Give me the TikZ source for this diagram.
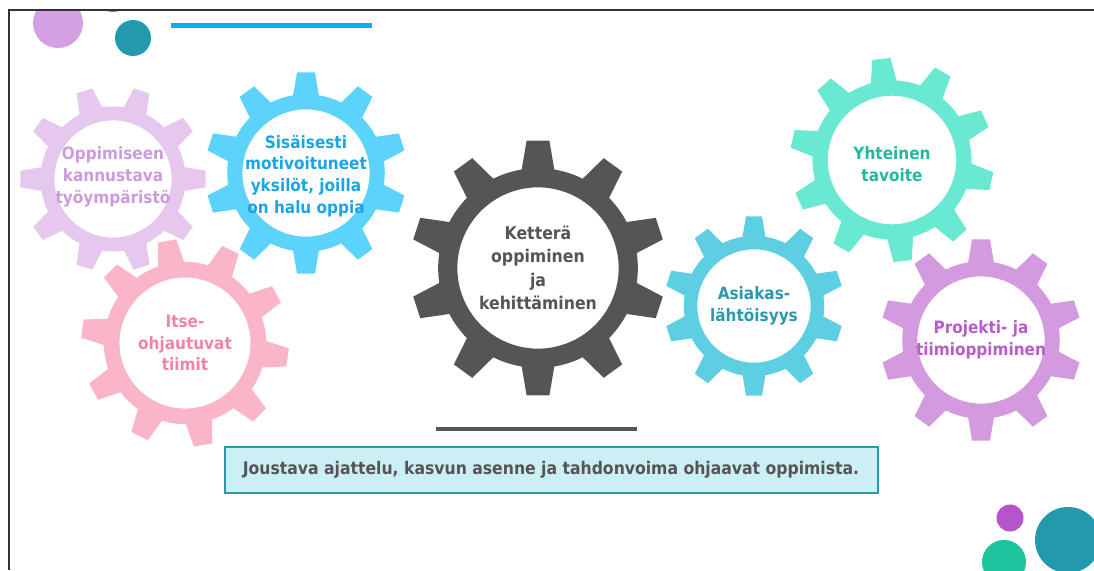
\documentclass[tikz,border=0pt]{standalone}
\usepackage{fontspec}
\setmainfont{DejaVu Sans Condensed}
\usetikzlibrary{calc}
\definecolor{lilac}{HTML}{E6C8EE}
\definecolor{lilactext}{HTML}{CC9BDD}
\definecolor{sky}{HTML}{5CD3FA}
\definecolor{skytext}{HTML}{1BA5E4}
\definecolor{rose}{HTML}{FBB5C9}
\definecolor{rosetext}{HTML}{F283A6}
\definecolor{slate}{HTML}{555555}
\definecolor{aqua}{HTML}{5ECFE2}
\definecolor{aquatext}{HTML}{2C98AE}
\definecolor{mint}{HTML}{69E9D1}
\definecolor{minttext}{HTML}{22B99C}
\definecolor{orchid}{HTML}{D39ADF}
\definecolor{orchidtext}{HTML}{B85CCB}
\definecolor{boxfill}{HTML}{CBEFF5}
\definecolor{boxline}{HTML}{2A9AAB}
\definecolor{teal}{HTML}{2299AD}
\definecolor{dotpurple}{HTML}{D5A0E3}
\definecolor{dotred}{HTML}{E8607A}
\definecolor{dotviolet}{HTML}{B455CC}
\definecolor{dotgreen}{HTML}{1DC49E}
\definecolor{rule}{HTML}{00B0F0}
\begin{document}
\begin{tikzpicture}[x=1pt,y=-1pt]

      \useasboundingbox (0,0) rectangle (1094,570);

      \begin{scope}
        \clip (9,10) rectangle (1094,570);
        \fill[dotpurple] (58,23)   circle (25);
        \fill[dotred]    (113,-8)  circle (20);
        \fill[teal]      (133,38)  circle (18);
        \fill[dotviolet] (1010,518) circle (13.5);
        \fill[dotgreen]  (1004,562) circle (22);
        \fill[teal]      (1068,540) circle (33);
      \end{scope}

      \draw[line width=2.2pt,black!80] (1094,10) -- (9,10) -- (9,570);
      \draw[line width=5pt,rule] (171,25) -- (372,25);

      \foreach \name/\x/\y/\r/\rot/\col in {ga/113/179/93/0/lilac, gb/306/173/101/18/sky,
          gc/185/343/104/28/rose, gd/538/268/128/18/slate, ge/754/306/90/18/aqua,
          gf/892/160/102/24/mint, gg/981/340/101/18/orchid}{
        \coordinate (\name) at (\x,\y);
        \begin{scope}[shift={(\x,\y)},rotate=\rot]
          \fill[\col,even odd rule] (-9.4:{0.78*\r})
            \foreach \k in {0,...,9}{
              -- ({36*\k-5.1}:\r) -- ({36*\k+5.1}:\r) -- ({36*\k+9.4}:{0.78*\r})
              arc[start angle={36*\k+9.4},end angle={36*\k+26.6},radius={0.78*\r}]
            } -- cycle
            (0,0) circle[radius={0.63*\r}];
        \end{scope}
      }

      \begin{scope}[every node/.style={align=center,font=\bfseries\fontsize{17}{21.7}\selectfont}]
        \node[text=lilactext]  (ta) at ($(ga)+(0,-2)$) {Oppimiseen\\kannustava\\työympäristö};
        \node[text=skytext]    (tb) at ($(gb)+(0,3)$)  {Sisäisesti\\motivoituneet\\yksilöt, joilla\\on halu oppia};
        \node[text=rosetext]   (tc) at (gc) {Itse-\\ohjautuvat\\tiimit};
        \node[text=slate,font=\bfseries\fontsize{17.5}{23.5}\selectfont] (td) at (gd) {Ketterä\\oppiminen\\ja\\kehittäminen};
        \node[text=aquatext]   (te) at (ge) {Asiakas-\\lähtöisyys};
        \node[text=minttext]   (tf) at ($(gf)+(0,4)$) {Yhteinen\\tavoite};
        \node[text=orchidtext] (tg) at (gg) {Projekti- ja\\tiimioppiminen};
      \end{scope}

      \draw[line width=4.5pt,slate] (436,429) -- (637,429);

      \node[draw=boxline,line width=2pt,fill=boxfill,minimum width=653pt,minimum height=46pt,
            text=slate,font=\bfseries\fontsize{17.4}{20}\selectfont] (note) at (551,470)
            {Joustava ajattelu, kasvun asenne ja tahdonvoima ohjaavat oppimista.};

    \end{tikzpicture}
\end{document}
